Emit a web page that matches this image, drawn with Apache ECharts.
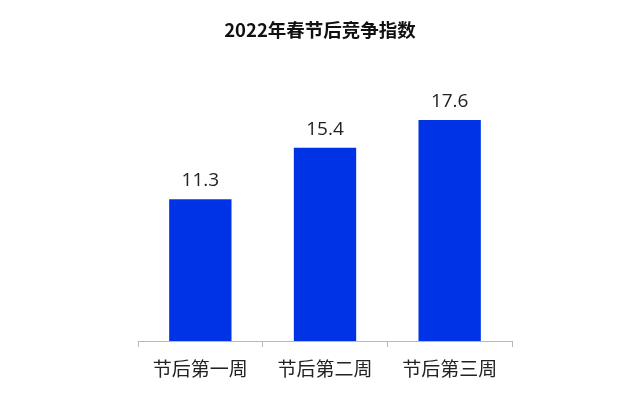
<!DOCTYPE html>
<html><head><meta charset="utf-8">
<script src="https://cdn.jsdelivr.net/npm/echarts@6/dist/echarts.min.js"></script>
<style>html,body{margin:0;padding:0;background:#fff}#c{width:640px;height:393px}</style>
</head><body><div id="c"></div>
<script>
const categories = ['节后第一周', '节后第二周', '节后第三周'];
const values = [11.3, 15.4, 17.6];
const titleText = '2022年春节后竞争指数';
const chart = echarts.init(document.getElementById('c'));
chart.setOption({
  animation: false,
  title: {text: titleText, left: 'center', top: 16,
    textStyle: {fontFamily: '"Noto Sans CJK SC"', fontSize: 18.5, fontWeight: 'bold', color: '#111'}},
  grid: {left: 138, right: 128, top: 90, bottom: 52},
  xAxis: {type: 'category', data: categories,
    axisLine: {show: true, lineStyle: {color: '#b8b8b8'}},
    axisTick: {show: true, length: 6, lineStyle: {color: '#b8b8b8'}},
    axisLabel: {fontFamily: '"Noto Sans CJK SC"', fontSize: 19, color: '#222', margin: 18}},
  yAxis: {type: 'value', min: 0, max: 20, show: false, splitLine: {show: false}},
  series: [{type: 'bar', data: values, barWidth: '50%',
    itemStyle: {color: '#0033E6'},
    label: {show: true, position: 'top', distance: 9, fontFamily: '"Open Sans"', fontSize: 19, color: '#222'}}]
});
</script></body></html>
